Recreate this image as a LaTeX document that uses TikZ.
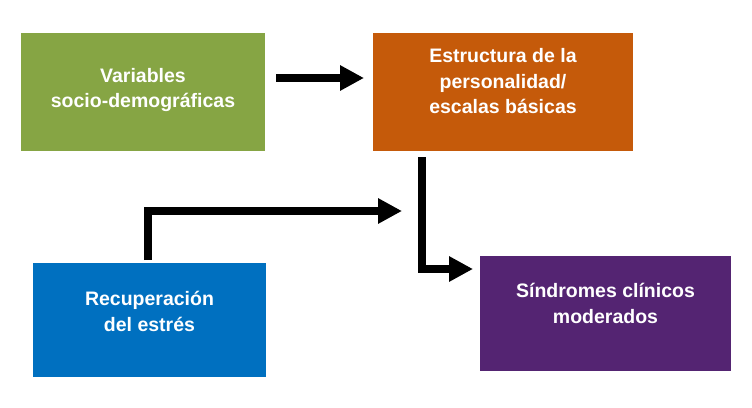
\documentclass[tikz,border=0pt]{standalone}
\usepackage{fontspec}
\setmainfont{Liberation Sans}
\usetikzlibrary{arrows.meta}
\definecolor{verde}{HTML}{86A544}
\definecolor{naranja}{HTML}{C55A0A}
\definecolor{azul}{HTML}{0070C0}
\definecolor{morado}{HTML}{542472}
\tikzset{
    every node/.style={inner sep=0pt, outer sep=0pt}
}
\tikzset{
    caja/.style={rectangle, draw=none}
}
\tikzset{
    texto/.style={text=white, align=center,
    	font=\fontsize{19.5}{25.5}\selectfont\bfseries}
}
\tikzset{
    flecha/.style={line width=8pt, line join=miter,
    	-{Triangle[length=24pt, width=24pt]}}
}

\begin{document}
\begin{tikzpicture}[x=1pt, y=-1pt]
	\useasboundingbox (0,0) rectangle (752,407);

	\node (vars) [caja, fill=verde, minimum width=244pt, minimum height=118pt,
		label={[texto, yshift=1.8pt]center:{Variables\\socio-demográficas}}] at (143,92) {};
	\node (estr) [caja, fill=naranja, minimum width=260pt, minimum height=118pt,
		label={[texto, yshift=10.5pt]center:{Estructura de la\\personalidad/\\escalas básicas}}] at (503,92) {};
	\node (recup) [caja, fill=azul, minimum width=233pt, minimum height=114pt,
		label={[texto, yshift=8.8pt]center:{Recuperación\\del estrés}}] at (149.5,320) {};
	\node (sind) [caja, fill=morado, minimum width=251pt, minimum height=115pt,
		label={[texto, yshift=10pt]center:{Síndromes clínicos\\moderados}}] at (605.5,313.5) {};
	\coordinate (cruce) at (402,211);

	\draw[flecha, shorten <=11pt, shorten >=9pt] ([yshift=14pt]vars.east) -- ([yshift=14pt]estr.west);
	\draw[flecha, shorten <=3pt] ([xshift=-1.5pt]recup.north) |- (cruce);
	\draw[flecha, shorten <=6pt, shorten >=7pt] ([xshift=-81pt]estr.south) |- ([yshift=44.5pt]sind.west);
\end{tikzpicture}
\end{document}
